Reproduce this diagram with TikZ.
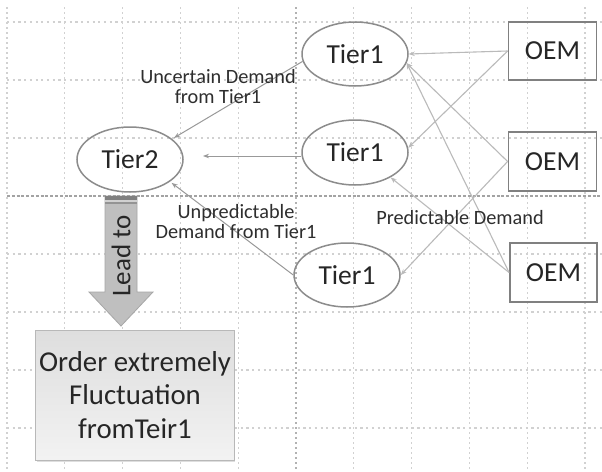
\documentclass[tikz,border=0pt]{standalone}
\usepackage{fontspec}
\setmainfont{Carlito}
\usetikzlibrary{shapes.geometric,arrows.meta,shadows}

\begin{document}
\begin{tikzpicture}[x=1pt,y=-1pt,
  tiernode/.style={ellipse,draw=black!45,line width=1.5pt,minimum width=106pt,
    minimum height=65pt,inner sep=0pt,font=\fontsize{27.5}{30}\selectfont,text=black!85},
  oembox/.style={rectangle,draw=black!50,line width=1.8pt,minimum width=88pt,
    minimum height=58pt,inner sep=0pt,font=\fontsize{27.5}{30}\selectfont,text=black!85},
  lbl/.style={align=center,font=\fontsize{20.3}{20}\selectfont,text=black!82,inner sep=0pt},
  flow/.style={draw=black!27,line width=1.1pt,-{Stealth[length=6pt,width=4.5pt]}},
  back/.style={draw=black!40,line width=1pt,-{Stealth[length=6pt,width=4.5pt]}},
  gridv/.style={black!18,line width=1.3pt,dash pattern=on 1.5pt off 3.5pt},
  gridh/.style={black!18,line width=1.3pt,dash pattern=on 2.2pt off 3.5pt},
  gridvdark/.style={black!30,line width=1.3pt,dash pattern=on 1.5pt off 3.5pt},
  gridhdark/.style={black!36,line width=1.4pt,dash pattern=on 3pt off 1.8pt},
]
\useasboundingbox (0,0) rectangle (602,471);
\fill[white] (0,0) rectangle (602,471);

% background grid
\foreach \k in {0,...,10} {
  \pgfmathsetmacro{\gx}{7+57.8*\k}
  \draw[gridv] (\gx,7) -- (\gx,471);
}
\foreach \gy in {22,80,138,254,312,370,428} {
  \draw[gridh] (7,\gy) -- (602,\gy);
}
\draw[gridvdark] (296,7) -- (296,471);
\draw[gridhdark] (7,196) -- (602,196);

% nodes
\node[tiernode] (T2) at (130,159.5) {Tier2};
\node[tiernode,minimum height=64pt] (T1a) at (355,54) {Tier1};
\node[tiernode] (T1b) at (355,152.5) {Tier1};
\node[tiernode,minimum height=64pt] (T1c) at (347,275) {Tier1};
\node[oembox] (O1) at (552.5,51) {OEM};
\node[oembox,minimum height=59pt] (O2) at (552.5,161.5) {OEM};
\node[oembox,minimum width=87pt,minimum height=59pt] (O3) at (553.5,272.5) {OEM};

% demand from the OEMs
\draw[flow] (O1.west) -- (T1a.east);
\draw[flow] (O1.west) -- (T1b.5);
\draw[flow] (O2.west) -- (T1a.-10);
\draw[flow] (O3.west) -- (T1a.-10);
\draw[flow] (O3.west) -- (T1b.-35);
\draw[flow] (O2.west) -- (T1c.east);

% demand passed on to Tier2
\coordinate (t2in) at (203,156);
\draw[back,shorten >=2pt] (T1a.188) -- (T2.26);
\draw[back] (T1b.west |- t2in) -- (t2in);
\draw[back,shorten >=2pt] (T1c.west) -- (T2.-29);

% labels
\node[lbl] (lu) at (218,87) {Uncertain Demand\\from Tier1};
\node[lbl] (lp) at (236,222) {Unpredictable\\Demand from Tier1};
\node[lbl] (lq) at (460,218) {Predictable Demand};

% block arrow
\fill[black!25,draw=black!35,line width=0.8pt]
  (105,196) -- (137,196) -- (137,292) -- (153,292) -- (121,326)
  -- (89,292) -- (105,292) -- cycle;
\fill[black!50] (105,196) rectangle (137,199.5);
\fill[black!18] (105,199.5) rectangle (137,201.5);
\fill[black!42] (105,201.5) rectangle (137,204);
\node[rotate=90,font=\fontsize{27}{30}\selectfont,text=black!85,inner sep=0pt] (lead) at (121,256) {Lead to};

% result box
\node[rectangle,draw=black!28,line width=1pt,top color=black!13,bottom color=black!5,
  drop shadow={shadow xshift=1pt,shadow yshift=-2pt,fill=black!25},
  minimum width=196pt,minimum height=130pt,align=center,
  font=\fontsize{28.8}{33.5}\selectfont,text=black!85] (res) at (135,395)
  {Order extremely\\Fluctuation\\fromTeir1};
\end{tikzpicture}
\end{document}
